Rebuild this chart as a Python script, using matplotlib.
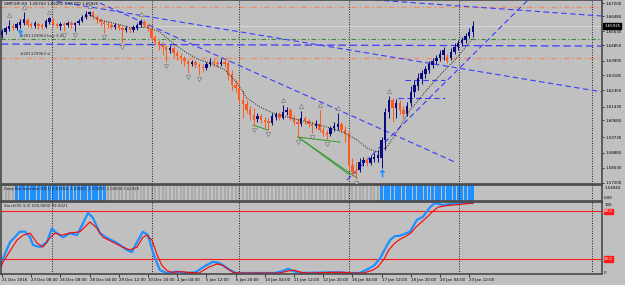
import matplotlib.pyplot as plt
import numpy as np

# ---- data (GBPCHF H4) ----
symbol_text = "GBPCHF,H4  1.65743 1.66201 1.65720 1.65925"
order_text = "#201129963 buy 3.00"
sl_text = "#201129963 sl"
deepbar_text = "Deep Bar Indicator(18,1) 1.62358 -1.00000 -1.00000 -1.00000 1.62358"
stoch_text = "Stoch(55,3,3) 100.0000 99.9421"

opens = [1.6542, 1.6559, 1.6576, 1.6592, 1.6581, 1.6598, 1.6609, 1.6626, 1.6604, 1.6592,
         1.6604, 1.6598, 1.6587, 1.6615, 1.6631, 1.6604, 1.6592, 1.6604, 1.6598, 1.6609,
         1.6598, 1.6609, 1.6620, 1.6642, 1.6659, 1.6670, 1.6642, 1.6626, 1.6615, 1.6604,
         1.6598, 1.6587, 1.6598, 1.6581, 1.6570, 1.6581, 1.6570, 1.6581, 1.6598, 1.6615,
         1.6598, 1.6576, 1.6531, 1.6503, 1.6487, 1.6476, 1.6459, 1.6470, 1.6442, 1.6426,
         1.6415, 1.6398, 1.6381, 1.6392, 1.6376, 1.6364, 1.6359, 1.6381, 1.6392, 1.6387,
         1.6381, 1.6392, 1.6387, 1.6326, 1.6264, 1.6248, 1.6181, 1.6159, 1.6125, 1.6098,
         1.6075, 1.6092, 1.6070, 1.6064, 1.6053, 1.6086, 1.6103, 1.6081, 1.6114, 1.6125,
         1.6081, 1.6059, 1.6048, 1.6081, 1.6064, 1.6048, 1.6036, 1.6048, 1.6014, 1.6003,
         1.5992, 1.6025, 1.6031, 1.6048, 1.6014, 1.5998, 1.5820, 1.5792, 1.5792, 1.5831,
         1.5847, 1.5831, 1.5853, 1.5858, 1.5858, 1.5959, 1.6114, 1.6181, 1.6137, 1.6164,
         1.6125, 1.6103, 1.6164, 1.6226, 1.6259, 1.6298, 1.6326, 1.6348, 1.6376, 1.6398,
         1.6415, 1.6431, 1.6420, 1.6415, 1.6448, 1.6476, 1.6498, 1.6515, 1.6537, 1.6559]
highs = [1.6576, 1.6592, 1.6626, 1.6609, 1.6615, 1.6631, 1.6670, 1.6637, 1.6615, 1.6620,
         1.6615, 1.6609, 1.6631, 1.6642, 1.6637, 1.6615, 1.6615, 1.6615, 1.6620, 1.6620,
         1.6615, 1.6631, 1.6654, 1.6676, 1.6676, 1.6676, 1.6654, 1.6637, 1.6626, 1.6620,
         1.6609, 1.6609, 1.6604, 1.6592, 1.6592, 1.6587, 1.6598, 1.6609, 1.6631, 1.6626,
         1.6609, 1.6587, 1.6542, 1.6515, 1.6503, 1.6487, 1.6487, 1.6481, 1.6459, 1.6442,
         1.6426, 1.6409, 1.6403, 1.6403, 1.6387, 1.6381, 1.6392, 1.6415, 1.6409, 1.6403,
         1.6415, 1.6415, 1.6403, 1.6348, 1.6292, 1.6303, 1.6237, 1.6181, 1.6148, 1.6137,
         1.6109, 1.6103, 1.6086, 1.6081, 1.6109, 1.6114, 1.6114, 1.6153, 1.6142, 1.6137,
         1.6098, 1.6081, 1.6120, 1.6092, 1.6075, 1.6064, 1.6070, 1.6125, 1.6031, 1.6014,
         1.6036, 1.6059, 1.6109, 1.6059, 1.6036, 1.6014, 1.5858, 1.5836, 1.5858, 1.5864,
         1.5864, 1.5875, 1.5886, 1.5903, 1.5975, 1.6137, 1.6203, 1.6192, 1.6187, 1.6181,
         1.6148, 1.6170, 1.6259, 1.6292, 1.6331, 1.6348, 1.6370, 1.6398, 1.6415, 1.6431,
         1.6459, 1.6476, 1.6437, 1.6470, 1.6498, 1.6515, 1.6531, 1.6554, 1.6581, 1.6620]
lows = [1.6526, 1.6548, 1.6565, 1.6570, 1.6570, 1.6581, 1.6598, 1.6587, 1.6581, 1.6581,
        1.6576, 1.6576, 1.6581, 1.6604, 1.6592, 1.6581, 1.6570, 1.6565, 1.6587, 1.6581,
        1.6565, 1.6598, 1.6615, 1.6631, 1.6648, 1.6631, 1.6609, 1.6592, 1.6554, 1.6581,
        1.6576, 1.6576, 1.6570, 1.6498, 1.6559, 1.6554, 1.6559, 1.6570, 1.6587, 1.6587,
        1.6565, 1.6509, 1.6487, 1.6459, 1.6431, 1.6392, 1.6442, 1.6415, 1.6403, 1.6381,
        1.6370, 1.6331, 1.6370, 1.6359, 1.6320, 1.6337, 1.6348, 1.6370, 1.6370, 1.6364,
        1.6370, 1.6364, 1.6292, 1.6237, 1.6226, 1.6164, 1.6081, 1.6109, 1.6070, 1.6036,
        1.6059, 1.6053, 1.6025, 1.6014, 1.6042, 1.6070, 1.6070, 1.6075, 1.6098, 1.6070,
        1.6042, 1.5970, 1.6036, 1.6048, 1.6031, 1.5998, 1.6025, 1.6003, 1.5981, 1.5959,
        1.5981, 1.6009, 1.6014, 1.5998, 1.5947, 1.5792, 1.5759, 1.5742, 1.5781, 1.5814,
        1.5814, 1.5820, 1.5836, 1.5836, 1.5803, 1.5903, 1.6081, 1.6059, 1.6081, 1.6103,
        1.6081, 1.6092, 1.6148, 1.6198, 1.6237, 1.6270, 1.6303, 1.6331, 1.6359, 1.6381,
        1.6398, 1.6403, 1.6387, 1.6403, 1.6437, 1.6459, 1.6481, 1.6498, 1.6526, 1.6531]
closes = [1.6565, 1.6581, 1.6592, 1.6581, 1.6604, 1.6615, 1.6631, 1.6598, 1.6592, 1.6609,
          1.6592, 1.6587, 1.6620, 1.6637, 1.6604, 1.6592, 1.6604, 1.6598, 1.6609, 1.6598,
          1.6609, 1.6620, 1.6642, 1.6659, 1.6670, 1.6642, 1.6626, 1.6615, 1.6604, 1.6598,
          1.6587, 1.6598, 1.6581, 1.6570, 1.6581, 1.6570, 1.6587, 1.6598, 1.6620, 1.6598,
          1.6576, 1.6526, 1.6503, 1.6487, 1.6476, 1.6459, 1.6470, 1.6442, 1.6426, 1.6415,
          1.6398, 1.6381, 1.6392, 1.6376, 1.6364, 1.6359, 1.6381, 1.6392, 1.6387, 1.6381,
          1.6392, 1.6381, 1.6320, 1.6264, 1.6248, 1.6181, 1.6159, 1.6125, 1.6098, 1.6070,
          1.6092, 1.6070, 1.6059, 1.6053, 1.6092, 1.6103, 1.6081, 1.6114, 1.6125, 1.6081,
          1.6059, 1.6048, 1.6081, 1.6064, 1.6048, 1.6036, 1.6048, 1.6014, 1.5998, 1.5986,
          1.6025, 1.6036, 1.6048, 1.6014, 1.5992, 1.5820, 1.5781, 1.5770, 1.5836, 1.5847,
          1.5831, 1.5858, 1.5864, 1.5875, 1.5959, 1.6114, 1.6181, 1.6137, 1.6164, 1.6125,
          1.6103, 1.6148, 1.6226, 1.6264, 1.6303, 1.6331, 1.6353, 1.6381, 1.6398, 1.6415,
          1.6437, 1.6459, 1.6398, 1.6448, 1.6476, 1.6498, 1.6515, 1.6537, 1.6559, 1.65925]

fractal_up_bars = [2, 6, 13, 24, 38, 77, 82, 87, 92, 106]
fractal_down_bars = [17, 20, 28, 33, 45, 51, 54, 69, 73, 81, 85, 89, 97]
buy_arrow_bars = [5, 104]

# dotted moving average (bar, price)
ma_bars = [22.7, 24.1, 26.8, 30.4, 35.9, 39.7, 43.3, 46.8, 50.7, 54.2, 57.0, 61.1, 64.4,
           67.1, 70.7, 74.2, 78.1, 83.6, 89.0, 93.4, 97.3, 100.0, 102.7, 105.5, 108.2,
           111.8, 117.3, 120.8, 124.1, 126.8, 129.0]
ma_vals = [1.6642, 1.6654, 1.6626, 1.6609, 1.6581, 1.6587, 1.6559, 1.6498, 1.6442, 1.6403,
           1.6387, 1.6348, 1.6276, 1.6192, 1.6142, 1.6109, 1.6086, 1.6059, 1.6031, 1.6003,
           1.5959, 1.5914, 1.5892, 1.5920, 1.6003, 1.6125, 1.6259, 1.6337, 1.6403, 1.6470,
           1.6526]

# user drawn objects: ((bar0, price0), (bar1, price1))
blue_trendlines = [((12.6, 1.6737), (164.4, 1.6226)),
                   ((26.8, 1.6720), (124.1, 1.5836)),
                   ((102.2, 1.6737), (164.4, 1.6648)),
                   ((94.5, 1.5736), (144.1, 1.6737)),
                   ((108.5, 1.6192), (121.4, 1.6192)),
                   ((110.4, 1.6292), (121.4, 1.6292))]
blue_level_line = ((-0.3, 1.6492), (164.4, 1.6481))
green_lines = [((68.8, 1.6042), (72.9, 1.6014)),
               ((81.1, 1.5975), (92.6, 1.5947)),
               ((81.1, 1.5975), (95.3, 1.5764)),
               ((81.1, 1.5975), (97.3, 1.5747))]
order_price = 1.6518
tp_price = 1.6700
sl_price = 1.6416
bid_price = 1.65925
separator_bars = [13.7, 41.1, 64.9, 95.1, 125.2, 161.6]

price_ticks = [1.67200, 1.66480, 1.65630, 1.64850, 1.63995, 1.63185, 1.62350,
               1.61430, 1.60680, 1.59730, 1.58880, 1.58030, 1.57200]

deep_bar_blue_ranges = [(4, 28), (104, 129)]

stoch_main_bars = [-0.3, 2.2, 4.9, 6.3, 7.7, 8.5, 10.4, 12.3, 13.7, 14.5, 16.7, 18.6, 20.5,
                   22.2, 23.6, 24.9, 26.8, 28.8, 31.5, 34.2, 35.6, 37.0, 38.6, 40.0, 41.4,
                   42.7, 43.3, 45.2, 48.0, 50.7, 53.0, 55.6, 57.8, 59.7, 61.9, 64.0, 74.8,
                   77.0, 78.4, 79.7, 81.6, 90.0, 92.6, 94.8, 98.0, 100.8, 102.0, 103.6,
                   105.0, 106.3, 107.7, 109.0, 110.4, 111.8, 113.7, 115.3, 117.3, 118.6,
                   120.8, 123.6, 125.5, 129.0]
stoch_main = [14, 44, 59, 59, 51, 40, 37, 44, 64, 59, 51, 57, 54, 71, 86, 79, 57, 50, 43, 33,
              30, 44, 59, 54, 29, 11, 4, 0, 2, 0, 1, 10, 16, 14, 6, 0, 0, 3, 6, 3, 0, 1, 1,
              0, 0, 7, 11, 21, 35, 47, 53, 53, 56, 59, 76, 80, 94, 100, 97, 99, 100, 100]
stoch_sig_bars = [-0.3, 0.3, 4.1, 5.8, 7.7, 9.6, 11.2, 13.1, 14.5, 16.4, 18.6, 21.4, 24.1,
                  26.0, 27.7, 30.4, 33.1, 35.1, 37.0, 38.6, 39.7, 41.1, 42.5, 43.8, 45.3,
                  46.5, 48.8, 51.0, 54.0, 56.5, 58.9, 60.5, 63.3, 65.0, 76.0, 78.5, 80.0,
                  82.0, 84.0, 91.0, 93.5, 96.0, 99.0, 101.6, 103.0, 104.7, 106.0, 107.5,
                  109.0, 110.5, 112.0, 113.5, 115.0, 116.5, 118.0, 119.5, 121.5, 123.5,
                  125.5, 127.5, 129.0]
stoch_sig = [8, 16, 47, 54, 57, 43, 37, 50, 57, 54, 57, 59, 73, 64, 51, 44, 37, 33, 37, 51,
             54, 47, 26, 11, 3, 1, 2, 1, 0, 8, 13, 11, 1, 0, 0, 3, 4, 1, 0, 1, 1, 0, 0, 4, 9,
             20, 33, 42, 48, 52, 57, 66, 73, 80, 88, 94, 96, 97, 98, 99, 99.94]
stoch_levels = [88, 20]

time_labels = ["21 Dec 2016", "23 Dec 08:00", "26 Dec 08:00", "28 Dec 04:00", "29 Dec 12:00",
               "30 Dec 20:00", "4 Jan 04:00", "5 Jan 12:00", "6 Jan 20:00", "10 Jan 04:00",
               "11 Jan 12:00", "12 Jan 20:00", "16 Jan 04:00", "17 Jan 12:00", "18 Jan 20:00",
               "20 Jan 04:00", "23 Jan 12:00"]
time_label_bars = [0, 8, 16, 24, 32, 40, 48, 56, 64, 72, 80, 88, 96, 104, 112, 120, 128]

# ---- style ----
BG = '#c0c0c0'
BULL = '#0a0a80'
BEAR = '#ff5a1e'
TLBLUE = '#3c3cff'
SPINE = '#4a4a4a'
FS = 2.9

W, H = 625, 285
fig = plt.figure(figsize=(6.25, 2.85), dpi=100, facecolor=BG)


def px_axes(x0, y0, x1, y1):
    a = fig.add_axes([x0 / W, 1 - y1 / H, (x1 - x0) / W, (y1 - y0) / H])
    a.set_facecolor(BG)
    for s in a.spines.values():
        s.set_color(SPINE)
        s.set_linewidth(1.2)
    a.set_xlim(-0.27, 164.4)
    return a


ax = px_axes(1, 0, 602, 184)
ax_db = px_axes(1, 185, 602, 201)
ax_st = px_axes(1, 202, 602, 274)

# ---- main price panel ----
o, h, l, c = map(np.array, (opens, highs, lows, closes))
idx = np.arange(len(c))
cols = np.where(c >= o, BULL, BEAR)
ax.set_ylim(1.5714, 1.6737)

ax.axhline(tp_price, color='#e8906a', lw=1.0, dashes=(4, 2, 1, 2), zorder=1)
ax.axhline(sl_price, color='#e8906a', lw=1.0, dashes=(4, 2, 1, 2), zorder=1)
ax.axhline(order_price, color='#3a8a3a', lw=0.8, dashes=(4, 2, 1, 2), zorder=1)
ax.axhline(bid_price, color='#d6d6d6', lw=0.7, zorder=1)
(bx0, by0), (bx1, by1) = blue_level_line
ax.plot([bx0, bx1], [by0, by1], color=TLBLUE, lw=0.9, dashes=(6, 3), zorder=2)
for (x0, y0), (x1, y1) in blue_trendlines:
    ax.plot([x0, x1], [y0, y1], color=TLBLUE, lw=0.8, dashes=(5, 3), zorder=2)
for (x0, y0), (x1, y1) in green_lines:
    ax.plot([x0, x1], [y0, y1], color='#2e9a2e', lw=0.7, zorder=2)

ax.vlines(idx, l, h, colors=cols, lw=0.7, zorder=3)
ax.bar(idx, np.maximum(np.abs(c - o), 0.00025), bottom=np.minimum(o, c), width=0.66,
       color=cols, linewidth=0, zorder=4)
ax.plot(ma_bars, ma_vals, color='#202020', lw=0.7, ls=(0, (1, 1.4)), zorder=5)

ax.plot(fractal_up_bars, h[fractal_up_bars] + 0.0027, ls='none', marker='^', ms=3,
        mfc='#d2d2d2', mec='#777777', mew=0.5, zorder=6)
ax.plot(fractal_down_bars, l[fractal_down_bars] - 0.0022, ls='none', marker='v', ms=3,
        mfc='#d2d2d2', mec='#777777', mew=0.5, zorder=6)
ax.plot(buy_arrow_bars, l[buy_arrow_bars] - 0.0030, ls='none', marker=r'$\uparrow$',
        ms=5, color='#1e90ff', mew=0.6, zorder=7)

ax.text(3 / 601, 1 - 2 / 184, symbol_text, transform=ax.transAxes, fontsize=FS,
        va='top', ha='left', color='black')
ax.text(5, order_price + 0.0008, order_text, fontsize=FS, va='bottom', ha='left',
        color='#303030')
ax.text(5, sl_price + 0.0008, sl_text, fontsize=FS, va='bottom', ha='left', color='#303030')

ax.set_xticks([])
ax.set_yticks(price_ticks)
ax.set_yticklabels([f'{p:.5f}' for p in price_ticks])
ax.tick_params(axis='y', left=False, right=True, labelleft=False, labelright=True,
               length=1.5, width=0.5, pad=1, labelsize=FS, colors='black')
ax.text(1.0035, bid_price, f'{bid_price:.5f}', transform=ax.get_yaxis_transform(),
        fontsize=FS, color='white', va='center', ha='left',
        bbox=dict(facecolor='black', edgecolor='black', pad=0.6))

# ---- deep bar panel ----
blue_flags = np.zeros(len(c), dtype=bool)
for a0, a1 in deep_bar_blue_ranges:
    blue_flags[a0:a1 + 1] = True
ax_db.set_ylim(0, 1)
ax_db.bar(idx[~blue_flags], 1, width=0.55, color='#aaaaaa', linewidth=0)
ax_db.bar(idx[blue_flags], 1, width=0.8, color='#1e90ff', linewidth=0)
ax_db.text(3 / 601, 0.72, deepbar_text, transform=ax_db.transAxes, fontsize=2.7,
           va='center', ha='left', color='#202020')
ax_db.set_xticks([])
ax_db.set_yticks([])
ax_db.text(1.0035, 0.82, '1.54944', transform=ax_db.transAxes, fontsize=FS, va='center')
ax_db.text(1.0035, 0.2, '0.00', transform=ax_db.transAxes, fontsize=FS, va='center')

# ---- stochastic panel ----
ax_st.set_ylim(-1.4, 101.4)
for lv in stoch_levels:
    ax_st.axhline(lv, color='#ff1a1a', lw=0.8)
ax_st.plot(stoch_main_bars, stoch_main, color='#1e90ff', lw=1.6, solid_joinstyle='round')
ax_st.plot(stoch_sig_bars, stoch_sig, color='#ff0000', lw=0.8)
ax_st.text(3 / 601, 1 - 4 / 72, stoch_text, transform=ax_st.transAxes, fontsize=2.8,
           va='center', ha='left', color='#202020')
ax_st.set_yticks([])
yt = ax_st.get_yaxis_transform()
ax_st.text(1.0035, 100, '100', transform=yt, fontsize=FS, va='top')
ax_st.text(1.0035, 0, '0', transform=yt, fontsize=FS, va='center')
for lv in stoch_levels:
    ax_st.text(1.0035, lv, f'{lv:.1f}', transform=yt, fontsize=FS, va='center', color='white',
               bbox=dict(facecolor='#ff1a1a', edgecolor='#ff1a1a', pad=0.4))
ax_st.set_xticks(time_label_bars)
ax_st.set_xticklabels(time_labels, ha='left')
ax_st.tick_params(axis='x', length=2, width=0.5, pad=0.8, labelsize=FS, colors='black')

for a in (ax, ax_db, ax_st):
    for b in separator_bars:
        a.axvline(b, color='#1a1a1a', lw=0.7, ls=(0, (1, 1.6)), zorder=1.5)

fig.savefig('out.png', dpi=100, facecolor=BG)
